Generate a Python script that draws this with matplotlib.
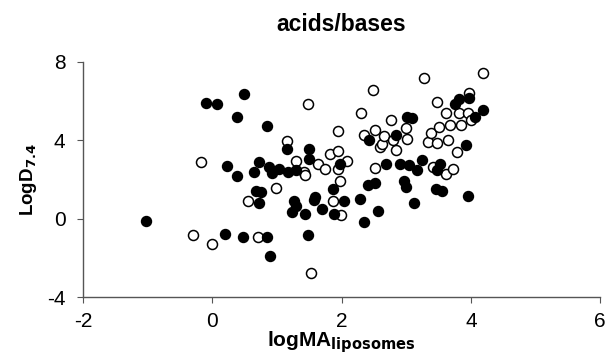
import matplotlib
matplotlib.use("Agg")
import matplotlib.pyplot as plt

plt.rcParams['font.family'] = ['Liberation Sans', 'DejaVu Sans']
plt.rcParams['axes.unicode_minus'] = False

# filled circles
filled_x = [-1.02, -0.10, 0.08, 0.49, 0.39, 0.84, 0.23, 0.38, 0.73, 0.64, 0.88, 0.93, 1.03,
            1.17, 1.15, 1.30, 1.50, 1.50, 0.67, 0.75, 0.73, 0.19, 0.48, 0.84, 0.90, 1.26,
            1.29, 1.23, 1.44, 1.48, 1.59, 1.58, 1.70, 1.88, 1.86, 1.98, 2.04, 2.28, 2.34,
            2.41, 2.51, 2.43, 2.57, 2.68, 2.84, 2.90, 2.96, 3.00, 3.04, 3.09, 3.01, 3.12,
            3.16, 3.24, 3.48, 3.52, 3.46, 3.55, 3.76, 3.82, 3.92, 3.95, 3.97, 4.06, 4.19]
filled_y = [-0.12, 5.91, 5.85, 6.34, 5.18, 4.74, 2.70, 2.17, 2.91, 2.38, 2.65, 2.34, 2.55,
            2.38, 3.56, 2.51, 3.57, 3.04, 1.44, 1.35, 0.79, -0.79, -0.92, -0.94, -1.90, 0.92,
            0.67, 0.34, 0.26, -0.84, 1.13, 0.96, 0.48, 0.22, 1.52, 2.79, 0.91, 1.01, -0.19,
            1.71, 1.81, 4.02, 0.41, 2.77, 4.29, 2.77, 1.91, 1.61, 2.72, 5.15, 5.18, 0.79,
            2.51, 3.01, 2.50, 2.80, 1.54, 1.44, 5.86, 6.09, 3.78, 1.15, 6.17, 5.18, 5.56]

# open circles
open_x = [-0.17, -0.30, -0.01, 0.56, 0.70, 0.99, 1.15, 1.29, 1.42, 1.44, 1.48, 1.64, 1.75,
          1.82, 1.95, 1.95, 1.95, 1.97, 2.08, 1.86, 1.99, 1.52, 2.30, 2.48, 2.34, 2.51,
          2.52, 2.59, 2.63, 2.65, 2.76, 2.80, 2.84, 2.99, 3.01, 3.28, 3.34, 3.39, 3.41,
          3.47, 3.48, 3.50, 3.61, 3.61, 3.64, 3.68, 3.72, 3.79, 3.82, 3.84, 3.96, 3.97,
          4.00, 4.19]
open_y = [2.91, -0.85, -1.30, 0.91, -0.94, 1.57, 3.95, 2.97, 2.41, 2.21, 5.85, 2.79, 2.53,
          3.28, 4.46, 3.47, 2.53, 1.90, 2.97, 0.91, 0.19, -2.75, 5.40, 6.58, 4.26, 4.55,
          2.58, 3.64, 3.83, 4.24, 5.06, 4.03, 3.49, 4.63, 4.09, 7.18, 3.91, 4.38, 2.63,
          5.95, 3.86, 4.67, 5.40, 2.29, 4.02, 4.80, 2.53, 3.42, 5.40, 4.80, 5.40, 6.43,
          5.03, 7.45]

x_ticks = [-2, 0, 2, 4, 6]
y_ticks = [-4, 0, 4, 8]

fig = plt.figure(figsize=(6.1, 3.58), dpi=100)
ax = fig.add_axes([0.136, 0.170, 0.848, 0.657])

ax.plot(open_x, open_y, 'o', ms=7.2, mfc='white', mec='black', mew=1.1, ls='none')
ax.plot(filled_x, filled_y, 'o', ms=7.2, mfc='black', mec='black', mew=1.0, ls='none')

ax.set_xlim(-2, 6)
ax.set_ylim(-4, 8)
ax.set_xticks(x_ticks)
ax.set_yticks(y_ticks)
ax.tick_params(labelsize=15, length=4.5, width=0.8, color='#555555')
ax.tick_params(axis='x', pad=6)
ax.tick_params(axis='y', pad=8)
for s in ['top', 'right']:
    ax.spines[s].set_visible(False)
for s in ['left', 'bottom']:
    ax.spines[s].set_color('#555555')
    ax.spines[s].set_linewidth(1.0)

ax.set_title('acids/bases', fontsize=16.5, fontweight='bold', pad=22)
ax.set_xlabel('logMA$_{\\mathbf{liposomes}}$', fontsize=15, fontweight='bold', labelpad=-1)
ax.set_ylabel('LogD$_{\\mathbf{7.4}}$', fontsize=13.5, fontweight='bold', labelpad=6)

fig.savefig('out.png', dpi=100)
